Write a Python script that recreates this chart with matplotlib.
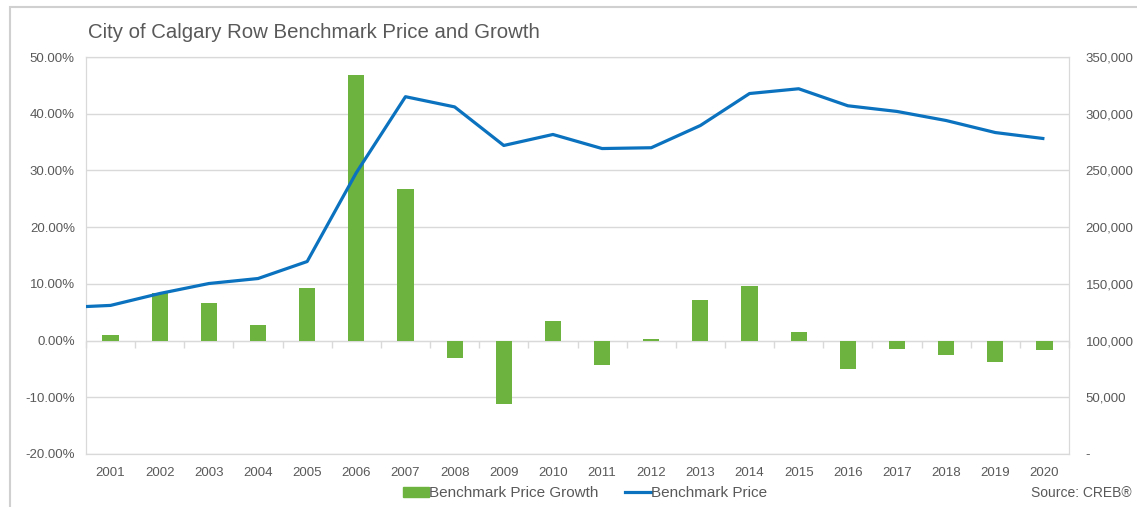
import matplotlib.pyplot as plt
import matplotlib.ticker as mticker
from matplotlib.patches import Rectangle
import numpy as np

# data
years = ["2001", "2002", "2003", "2004", "2005", "2006", "2007", "2008", "2009", "2010",
         "2011", "2012", "2013", "2014", "2015", "2016", "2017", "2018", "2019", "2020"]
growth = [0.9, 8.3, 6.7, 2.8, 9.3, 46.8, 26.7, -3.0, -11.2, 3.4,
          -4.3, 0.2, 7.2, 9.7, 1.5, -5.0, -1.5, -2.6, -3.7, -1.7]
# the price line also has a 2000 value, which Excel draws clipped at the left edge
price_2000 = 129000
price = [131000, 141500, 150300, 154700, 169700, 248000, 315000, 306000, 272000, 281700,
         269300, 270000, 289600, 317800, 322000, 307000, 302000, 294000, 283400, 278000]

green = "#6DB33F"
blue = "#0A72BE"
txt = "#595959"
grid = "#D9D9D9"

plt.rcParams['font.family'] = ['Liberation Sans', 'DejaVu Sans']

fig = plt.figure(figsize=(11.37, 5.07), dpi=100)
fig.patches.append(Rectangle((10 / 1137, -0.01), 1.02, 1 - 7 / 507 + 0.01,
                             transform=fig.transFigure, fill=False,
                             edgecolor="#D0D0D0", linewidth=1.5))

ax = fig.add_axes([86 / 1137, 1 - 454 / 507, (1069 - 86) / 1137, (454 - 57) / 507])
x = np.arange(len(years))

ax.bar(x, growth, width=0.33, color=green, zorder=2)
ax.set_ylim(-20, 50)
ax.set_xlim(-0.5, len(years) - 0.5)
ax.set_yticks(np.arange(-20, 51, 10))
ax.yaxis.set_major_formatter(mticker.FuncFormatter(lambda v, p: f"{v:.2f}%"))
ax.grid(axis="y", color=grid, linewidth=1, zorder=0)
ax.set_xticks(x)
ax.set_xticklabels(years)
ax.tick_params(axis="both", length=0, colors=txt, labelsize=9.5)
ax.tick_params(axis="x", pad=9)
ax.tick_params(axis="y", pad=8)
for s in ax.spines.values():
    s.set_color(grid)

# category axis line at 0% with tick marks between categories
sec = ax.secondary_xaxis(2 / 7)
sec.set_xticks(np.arange(-0.5, len(years), 1.0))
sec.set_xticklabels([])
sec.tick_params(axis="x", direction="out", length=5, color=grid, width=1)
sec.spines["bottom"].set_color(grid)

ax2 = ax.twinx()
ax2.plot(np.concatenate(([-1], x)), [price_2000] + price, color=blue, linewidth=2.3,
         solid_capstyle="butt", zorder=3)
ax2.set_ylim(0, 350000)
ax2.set_yticks(np.arange(0, 350001, 50000))
ax2.yaxis.set_major_formatter(mticker.FuncFormatter(
    lambda v, p: "-" if v == 0 else f"{v:,.0f}"))
ax2.tick_params(axis="y", length=0, colors=txt, labelsize=9.5, pad=12)
for s in ax2.spines.values():
    s.set_color(grid)

fig.text(88 / 1137, 1 - 33 / 507, "City of Calgary Row Benchmark Price and Growth",
         fontsize=14.7, color=txt, va="center", ha="left")

handles = [Rectangle((0, 0), 1, 1, color=green),
           plt.Line2D([0], [0], color=blue, linewidth=2.3)]
fig.legend(handles, ["Benchmark Price Growth", "Benchmark Price"],
           loc="center", bbox_to_anchor=(585 / 1137, 1 - 493 / 507), ncol=2,
           frameon=False, fontsize=11, labelcolor=txt, handlelength=1.7,
           handletextpad=0.05, columnspacing=1.7, handleheight=0.65)

fig.text(1132 / 1137, 1 - 493 / 507, "Source: CREB®", fontsize=10, color=txt,
         ha="right", va="center")

fig.savefig("out.png", dpi=100)
